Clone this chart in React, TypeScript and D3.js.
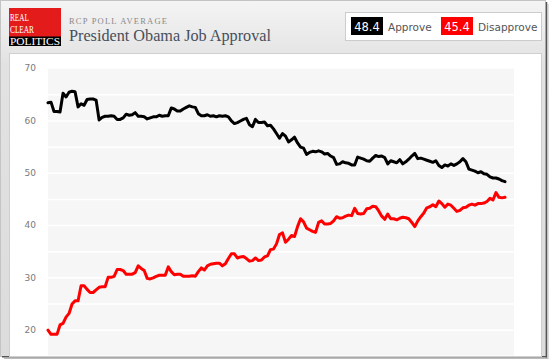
import React, { useEffect, useRef } from 'react';
import * as d3 from 'd3';

// RCP poll average, one sample every ~3px of the original timeline
const approve: number[] = [
  63.5, 63.6, 61.8, 61.8, 61.7, 65.3, 64.6, 65.5, 65.7, 65.6,
  62.7, 63.3, 63.0, 64.1, 64.2, 64.2, 64.0, 60.2, 60.7, 60.9,
  60.9, 61.0, 60.9, 60.3, 60.3, 60.6, 61.3, 61.1, 61.2, 61.6,
  60.9, 60.9, 60.8, 60.4, 60.6, 60.8, 60.8, 61.1, 60.9, 61.0,
  61.0, 62.5, 62.3, 61.9, 61.9, 62.3, 62.6, 62.9, 62.7, 62.6,
  61.4, 61.0, 61.0, 61.2, 60.9, 61.0, 60.8, 61.0, 60.9, 61.0,
  60.8, 60.0, 59.5, 59.7, 60.0, 60.3, 60.5, 59.3, 58.9, 60.3,
  59.7, 59.7, 59.8, 59.1, 59.2, 58.5, 57.6, 56.7, 57.6, 57.1,
  56.0, 56.4, 56.9, 55.8, 55.0, 54.8, 53.6, 54.0, 54.2, 54.1,
  54.3, 54.1, 53.7, 53.8, 53.3, 53.0, 51.7, 51.8, 52.2, 52.0,
  51.9, 51.6, 51.6, 53.1, 52.9, 52.7, 52.4, 52.3, 52.9, 53.4,
  53.2, 53.3, 53.0, 51.8, 52.4, 52.2, 52.0, 52.6, 51.8, 52.2,
  52.7, 53.3, 53.8, 52.8, 52.9, 52.7, 52.5, 52.3, 52.1, 52.4,
  51.5, 51.1, 51.6, 51.4, 51.8, 51.5, 51.8, 52.2, 52.8, 52.2,
  50.8, 50.6, 50.4, 50.1, 50.3, 49.9, 49.8, 49.3, 49.1, 49.1,
  48.9, 48.6, 48.4
];

const disapprove: number[] = [
  20.0, 19.2, 19.2, 19.2, 21.0, 21.3, 22.5, 23.2, 25.0, 25.6,
  25.6, 28.5, 28.5, 27.8, 27.2, 27.2, 27.7, 28.2, 28.3, 28.3,
  30.1, 30.1, 30.3, 31.6, 31.6, 31.4, 30.7, 30.7, 30.7, 31.0,
  32.3, 31.8, 31.4, 29.9, 29.8, 30.0, 30.3, 30.5, 30.5, 30.5,
  32.1, 31.2, 30.6, 30.7, 30.7, 30.3, 30.3, 30.3, 30.4, 30.3,
  31.2, 31.9, 31.5, 32.3, 32.6, 32.7, 32.8, 32.8, 32.3, 32.7,
  33.7, 34.6, 34.6, 33.8, 34.0, 34.1, 33.7, 33.2, 33.3, 33.8,
  33.3, 33.4, 34.0, 34.2, 35.4, 35.5, 36.5, 38.3, 38.6, 36.8,
  37.4, 38.1, 37.9, 39.8, 41.3, 40.7, 39.5, 39.2, 38.9, 38.7,
  40.6, 40.9, 40.3, 40.3, 40.4, 40.9, 41.7, 41.4, 41.5, 41.8,
  42.0, 41.9, 43.3, 42.3, 42.2, 42.3, 43.2, 43.3, 43.7, 43.6,
  42.8, 41.8, 41.2, 42.2, 41.3, 41.3, 41.1, 41.4, 41.6, 41.5,
  41.3, 40.6, 39.8, 40.9, 41.7, 42.4, 43.4, 43.6, 44.0, 43.6,
  44.7, 44.2, 43.5, 44.1, 43.9, 43.3, 42.7, 42.9, 43.4, 43.5,
  43.9, 44.1, 43.9, 44.2, 44.2, 44.3, 44.6, 45.2, 44.9, 46.3,
  45.4, 45.3, 45.4
];

const yTicks = [20, 30, 40, 50, 60, 70];
const gridValues = [20, 25, 30, 35, 40, 45, 50, 55, 60, 65];
const legendItems = [
  { value: '48.4', label: 'Approve', color: '#000000' },
  { value: '45.4', label: 'Disapprove', color: '#ff0000' }
];

export default function App() {
  const svgRef = useRef<SVGSVGElement>(null);

  useEffect(() => {
    if (!svgRef.current) return;
    document.body.style.margin = '0';

    const W = 551;
    const H = 360;
    const plot = { left: 48, right: 514, top: 68.7, bottom: 356.3 };

    const svg = d3.select(svgRef.current);
    svg.selectAll('*').remove();

    const defs = svg.append('defs');
    const grad = defs.append('linearGradient')
      .attr('id', 'hdr').attr('x1', 0).attr('y1', 0).attr('x2', 0).attr('y2', 1);
    grad.append('stop').attr('offset', '0%').attr('stop-color', '#f4f4f4');
    grad.append('stop').attr('offset', '18%').attr('stop-color', '#e2e2e2');
    grad.append('stop').attr('offset', '100%').attr('stop-color', '#dcdcdc');

    // page + frame
    svg.append('rect').attr('width', W).attr('height', H).attr('fill', '#ffffff');
    svg.append('rect').attr('x', 0.5).attr('y', 0.5).attr('width', 545).attr('height', 356)
      .attr('fill', 'url(#hdr)').attr('stroke', '#c4c4c4');
    // drop shadow lines
    svg.append('line').attr('x1', 546.5).attr('x2', 546.5).attr('y1', 2).attr('y2', 357.5)
      .attr('stroke', '#555').attr('stroke-width', 1.5);
    svg.append('line').attr('x1', 2).attr('x2', 547).attr('y1', 356.8).attr('y2', 356.8)
      .attr('stroke', '#555').attr('stroke-width', 1.5);
    svg.append('line').attr('x1', 548).attr('x2', 548).attr('y1', 4).attr('y2', 359)
      .attr('stroke', '#bbb').attr('stroke-width', 1);
    svg.append('line').attr('x1', 4).attr('x2', 548).attr('y1', 358.5).attr('y2', 358.5)
      .attr('stroke', '#bbb').attr('stroke-width', 1);

    // white panel
    svg.append('rect').attr('x', 9.5).attr('y', 53.5).attr('width', 532).attr('height', 303)
      .attr('fill', '#ffffff').attr('stroke', '#cfcfcf');

    // logo
    const logo = svg.append('g');
    logo.append('rect').attr('x', 9).attr('y', 8).attr('width', 52).attr('height', 29).attr('fill', '#e31b1b');
    logo.append('rect').attr('x', 9).attr('y', 36.5).attr('width', 52).attr('height', 9.5).attr('fill', '#000');
    const logoFont = '"Liberation Serif", "Times New Roman", serif';
    logo.append('text').attr('x', 10).attr('y', 20.5).text('REAL')
      .attr('fill', '#fff').attr('font-family', logoFont).attr('font-size', 10.5)
      .attr('textLength', 19).attr('lengthAdjust', 'spacingAndGlyphs');
    logo.append('text').attr('x', 10).attr('y', 32.5).text('CLEAR')
      .attr('fill', '#fff').attr('font-family', logoFont).attr('font-size', 10.5)
      .attr('textLength', 24).attr('lengthAdjust', 'spacingAndGlyphs');
    logo.append('text').attr('x', 10).attr('y', 45).text('POLITICS')
      .attr('fill', '#fff').attr('font-family', logoFont).attr('font-size', 10.5)
      .attr('textLength', 50).attr('lengthAdjust', 'spacingAndGlyphs');

    // titles
    svg.append('text').attr('x', 69).attr('y', 24).text('RCP POLL AVERAGE')
      .attr('fill', '#8a8a8a').attr('font-family', logoFont).attr('font-size', 8.5)
      .attr('textLength', 98).attr('lengthAdjust', 'spacing');
    svg.append('text').attr('x', 69).attr('y', 41).text('President Obama Job Approval')
      .attr('fill', '#454f5c').attr('font-family', logoFont).attr('font-size', 17.5)
      .attr('textLength', 202).attr('lengthAdjust', 'spacingAndGlyphs');

    // legend
    const leg = svg.append('g');
    leg.append('rect').attr('x', 345.5).attr('y', 12.5).attr('width', 196).attr('height', 28)
      .attr('fill', '#fff').attr('stroke', '#cccccc');
    const sans = '"DejaVu Sans", Verdana, sans-serif';
    const boxX = [351, 441];
    legendItems.forEach((d, i) => {
      const bx = boxX[i];
      leg.append('rect').attr('x', bx).attr('y', 17).attr('width', 32).attr('height', 18).attr('fill', d.color);
      leg.append('text').attr('x', bx + 16).attr('y', 30.5).attr('text-anchor', 'middle').text(d.value)
        .attr('fill', '#fff').attr('font-family', sans).attr('font-size', 11.5);
      leg.append('text').attr('x', bx + 37).attr('y', 30.5).text(d.label)
        .attr('fill', '#555').attr('font-family', sans).attr('font-size', 10.5);
    });

    // plot
    const x = d3.scaleLinear().domain([0, approve.length - 1]).range([48, 505]);
    const y = d3.scaleLinear().domain([15, 70]).range([plot.bottom, plot.top]);

    svg.append('rect').attr('x', plot.left).attr('y', plot.top)
      .attr('width', plot.right - plot.left).attr('height', plot.bottom - plot.top - 1)
      .attr('fill', '#f6f6f6');

    svg.append('g').selectAll('line').data(gridValues).enter().append('line')
      .attr('x1', plot.left).attr('x2', plot.right)
      .attr('y1', d => y(d)).attr('y2', d => y(d))
      .attr('stroke', '#ffffff').attr('stroke-width', 1.5);

    svg.append('g').selectAll('text').data(yTicks).enter().append('text')
      .attr('x', 36).attr('y', d => y(d)).attr('dy', '0.3em')
      .attr('text-anchor', 'end')
      .attr('fill', '#7a7a7a').attr('font-family', sans).attr('font-size', 9)
      .text(d => d);

    const line = d3.line<number>()
      .x((_, i) => x(i))
      .y(d => y(d));

    svg.append('path').datum(disapprove)
      .attr('fill', 'none').attr('stroke', '#ff0000').attr('stroke-width', 3)
      .attr('stroke-linejoin', 'round').attr('stroke-linecap', 'round')
      .attr('d', line);

    svg.append('path').datum(approve)
      .attr('fill', 'none').attr('stroke', '#000000').attr('stroke-width', 3)
      .attr('stroke-linejoin', 'round').attr('stroke-linecap', 'round')
      .attr('d', line);
  }, []);

  return (
    <div style={{ position: 'absolute', left: 0, top: 0 }}>
      <svg ref={svgRef} width={551} height={360} style={{ display: 'block' }} />
    </div>
  );
}
